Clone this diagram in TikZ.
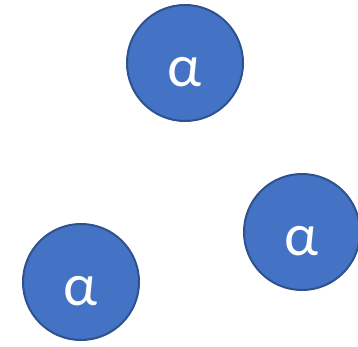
\documentclass[tikz,border=0pt]{standalone}
\usepackage{fontspec}
\setmainfont{Carlito}
\definecolor{fillblue}{HTML}{4472C4}
\definecolor{edgeblue}{HTML}{2F528F}
\begin{document}
\begin{tikzpicture}[x=1pt,y=-1pt,
  ball/.style={circle, fill=fillblue, draw=edgeblue, line width=2pt, minimum size=116pt, inner sep=0pt},
  lbl/.style={text=white, font=\fontsize{60}{60}\selectfont, anchor=base, inner sep=0pt}]
\useasboundingbox (0,0) rectangle (358,346);
\node[ball] (a) at (185,63) {};
\node[lbl] (ta) at (185,86) {α};
\node[ball] (b) at (302,232) {};
\node[lbl] (tb) at (302,255) {α};
\node[ball] (c) at (81,282) {};
\node[lbl] (tc) at (81,305) {α};
\end{tikzpicture}
\end{document}
